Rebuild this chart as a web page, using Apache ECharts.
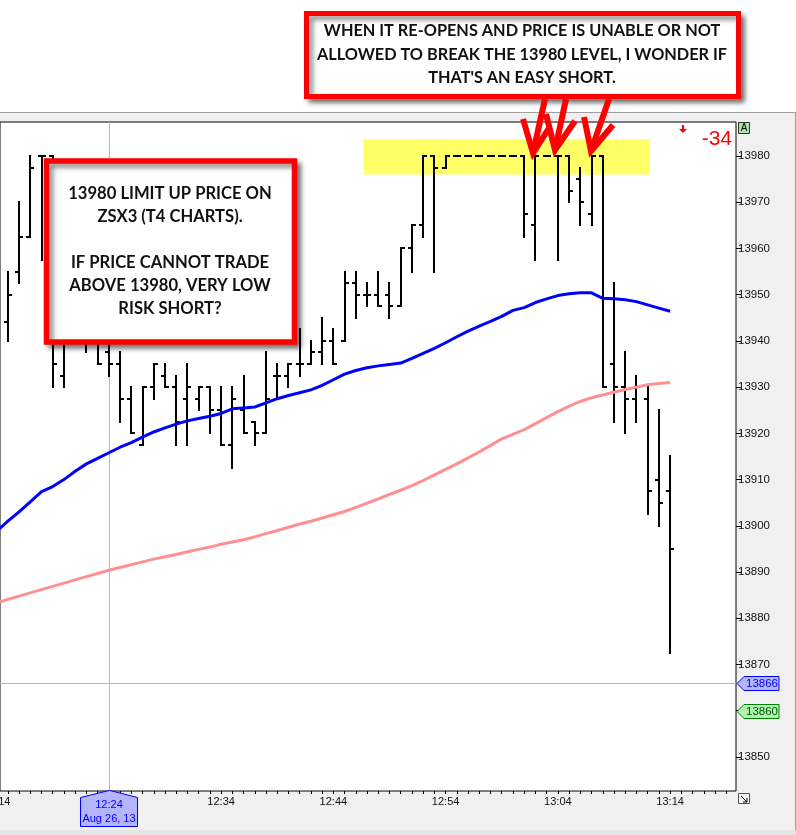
<!DOCTYPE html>
<html><head><meta charset="utf-8">
<script src="https://cdn.jsdelivr.net/npm/echarts@6/dist/echarts.min.js"></script>
<style>html,body{margin:0;padding:0;background:#fff}#c{width:796px;height:835px}</style>
</head><body><div id="c"></div>
<script>
// ---------- data ----------
const times = ['12:15','12:16','12:17','12:18','12:19','12:20','12:21','12:22','12:23','12:24',
 '12:25','12:26','12:27','12:28','12:29','12:30','12:31','12:32','12:33','12:34',
 '12:35','12:36','12:37','12:38','12:39','12:40','12:41','12:42','12:43','12:44',
 '12:45','12:46','12:47','12:48','12:49','12:50','12:51','12:52','12:53','12:54',
 '12:55','12:56','12:57','12:58','12:59','13:00','13:01','13:02','13:03','13:04',
 '13:05','13:06','13:07','13:08','13:09','13:10','13:11','13:12','13:13','13:14'];
const opens = [13944,13955,13962.5,13980,13980,13932.5,13940,13945,13942,13937.5,
 13935,13927.5,13917.5,13930,13932.5,13930,13927.5,13927.5,13930,13925,
 13917.5,13925,13922.5,13920,13932.5,13932.5,13935,13935,13937.5,13940,
 13940,13952.5,13950,13950,13950,13947.5,13960,13965,13980,13977.5,
 13980,13980,13980,13980,13980,13980,13980,13965,13980,13980,
 13980,13975,13967.5,13980,13935,13930,13927.5,13927.5,13910,13907.5];
const highs = [13955,13970,13980,13980,13980,13945,13948,13950,13945,13942,
 13937.5,13930,13930,13935,13935,13932.5,13935,13930,13930,13930,
 13930,13932.5,13922.5,13937.5,13935,13935,13942.5,13940,13945,13942.5,
 13955,13955,13952.5,13955,13952.5,13960,13965,13980,13980,13980,
 13980,13980,13980,13980,13980,13980,13980,13980,13980,13980,
 13980,13977.5,13980,13980,13952.5,13937.5,13932.5,13930,13925,13915];
const lows = [13940,13952.5,13962.5,13957.5,13930,13930,13940,13937.5,13935,13932.5,
 13922.5,13920,13917.5,13927.5,13930,13917.5,13917.5,13925,13920,13917.5,
 13912.5,13920,13917.5,13920,13927.5,13930,13932.5,13935,13935,13935,
 13940,13945,13947.5,13947.5,13945,13947.5,13955,13962.5,13955,13977.5,
 13980,13980,13980,13980,13980,13980,13962.5,13957.5,13980,13957.5,
 13970,13965,13965,13930,13922.5,13920,13922.5,13902.5,13900,13872.5];
const closes = [13950,13962.5,13977.5,13980,13935,13940,13945,13942,13935,13935,
 13927.5,13920,13930,13935,13930,13922.5,13930,13930,13925,13917.5,
 13927.5,13920,13920,13927.5,13932.5,13935,13935,13937.5,13940,13935,
 13952.5,13950,13950,13947.5,13947.5,13960,13965,13980,13977.5,13980,
 13980,13980,13980,13980,13980,13980,13967.5,13980,13980,13980,
 13972.5,13970,13980,13930,13930,13927.5,13930,13907.5,13905,13895];

const maTimes = ['12:14'].concat(times);
const maFast = [13898.8,13901,13903,13905.2,13907.4,13908.5,13910,13911.8,13913.4,13914.6,
 13915.8,13917,13918,13919.2,13920.3,13921.2,13922,13922.7,13923.2,13923.7,
 13924.3,13925.3,13925.5,13925.7,13926.6,13927.5,13928.2,13928.8,13929.4,13930.4,
 13931.6,13932.8,13933.6,13934.2,13934.6,13934.9,13935.2,13936.2,13937.3,13938.4,
 13939.6,13940.9,13942.1,13943.2,13944.2,13945.3,13946.6,13947.2,13948.3,13949.1,
 13949.8,13950.2,13950.4,13950.4,13949.2,13949.1,13948.9,13948.5,13947.8,13947.1,
 13946.4];
const maSlow = [13883.3,13884.1,13884.8,13885.5,13886.2,13886.9,13887.6,13888.3,13889,13889.7,
 13890.4,13891,13891.6,13892.2,13892.8,13893.3,13893.8,13894.4,13894.9,13895.4,
 13896,13896.5,13897,13897.6,13898.3,13899,13899.7,13900.4,13901,13901.7,
 13902.4,13903.1,13904,13904.9,13905.8,13906.8,13907.7,13908.7,13909.8,13911,
 13912.2,13913.4,13914.7,13916,13917.4,13918.8,13919.8,13920.8,13922.1,13923.4,
 13924.7,13925.9,13926.9,13927.7,13928.3,13928.9,13929.5,13930,13930.5,13930.8,
 13931];

const priceTicks = [13850,13860,13870,13880,13890,13900,13910,13920,13930,13940,13950,13960,13970,13980];
const priceLabels = [13850,13870,13880,13890,13900,13910,13920,13930,13940,13950,13960,13970,13980];
const timeLabels = ['12:34','12:44','12:54','13:04','13:14'];
const firstPartialLabel = '12:14';
const limitZone = {from:'12:46.7', to:'13:12.2', low:13976, high:13983.6};
const crossTime = '12:24', crossDate = 'Aug 26, 13';
const crossPrice = 13866, alertPrice = 13860;
const netChange = '-34';
const topNote = ['WHEN IT RE-OPENS AND PRICE IS UNABLE OR NOT','ALLOWED TO BREAK THE 13980 LEVEL, I WONDER IF',"THAT'S AN EASY SHORT."];
const leftNote = ['13980 LIMIT UP PRICE ON','ZSX3 (T4 CHARTS).','','IF PRICE CANNOT TRADE','ABOVE 13980, VERY LOW','RISK SHORT?'];

// ---------- helpers ----------
const toMin = s => { const [h,m] = s.split(':'); return +h*60 + parseFloat(m); };
const fmt = m => Math.floor(m/60) + ':' + String(Math.round(m%60)).padStart(2,'0');

const ohlc = times.map((t,i)=>[toMin(t), opens[i], highs[i], lows[i], closes[i]]);
const fastData = maTimes.map((t,i)=>[toMin(t), maFast[i]]);
const slowData = maTimes.map((t,i)=>[toMin(t), maSlow[i]]);
const minuteTicks = []; for (let m = 735; m <= 799; m++) minuteTicks.push(m);

const FONT = 'Liberation Sans, Arial, sans-serif';
const X_MIN = 734.302, X_MAX = 799.87, Y_MIN = 13842.64, Y_MAX = 13987.35;
const chart = echarts.init(document.getElementById('c'), null, {renderer:'canvas'});

const option = {
  animation:false,
  backgroundColor:'#f0f0f0',
  grid:{left:-1, right:60, top:122, bottom:44, show:true, backgroundColor:'#fff', borderColor:'#000', borderWidth:1},
  xAxis:{type:'value', min:X_MIN, max:X_MAX, splitLine:{show:false},
    axisLine:{show:false},
    axisTick:{show:true, customValues:minuteTicks, length:3, lineStyle:{color:'#000'}},
    axisLabel:{customValues:timeLabels.map(toMin), formatter:v=>fmt(v), fontFamily:FONT, fontSize:11, color:'#111', margin:5}
  },
  yAxis:{type:'value', position:'right', min:Y_MIN, max:Y_MAX, scale:true, splitLine:{show:false},
    axisLine:{show:false},
    axisTick:{show:true, customValues:priceTicks, length:5, lineStyle:{color:'#000'}},
    axisLabel:{customValues:priceLabels, formatter:v=>String(v), fontFamily:FONT, fontSize:11.5, color:'#111', margin:2}
  },
  series:[
    { type:'custom', z:1, silent:true, clip:true,
      data:[[toMin(limitZone.from), limitZone.low, toMin(limitZone.to), limitZone.high]],
      encode:{x:[0,2], y:[1,3]},
      renderItem:(p, api)=>{
        const a = api.coord([api.value(0), api.value(3)]);
        const b = api.coord([api.value(2), api.value(1)]);
        return {type:'rect', shape:{x:a[0], y:a[1], width:b[0]-a[0], height:b[1]-a[1]}, style:{fill:'#ffff66'}};
      }
    },
    { type:'custom', z:3, silent:true, clip:true, data:ohlc,
      encode:{x:0, y:[1,2,3,4]},
      renderItem:(p, api)=>{
        const t = api.value(0);
        const pO = api.coord([t, api.value(1)]), pH = api.coord([t, api.value(2)]);
        const pL = api.coord([t, api.value(3)]), pC = api.coord([t, api.value(4)]);
        const x = Math.round(pO[0]), r = Math.round;
        const st = {stroke:'#000', lineWidth:2};
        return {type:'group', children:[
          {type:'line', shape:{x1:x, y1:r(pH[1])-1, x2:x, y2:r(pL[1])+1}, style:st},
          {type:'line', shape:{x1:x-4, y1:r(pO[1]), x2:x, y2:r(pO[1])}, style:st},
          {type:'line', shape:{x1:x, y1:r(pC[1]), x2:x+4, y2:r(pC[1])}, style:st}
        ]};
      }
    },
    { type:'line', z:4, data:slowData, showSymbol:false, silent:true, lineStyle:{color:'#ff9090', width:3}, itemStyle:{color:'#ff9090'} },
    { type:'line', z:5, data:fastData, showSymbol:false, silent:true, lineStyle:{color:'#0000ff', width:3}, itemStyle:{color:'#0000ff'} }
  ]
};
chart.setOption(option);

// ---------- annotations positioned through the axes ----------
const px = (t, v) => chart.convertToPixel({gridIndex:0}, [t, v]);
const yCross = Math.round(px(toMin(crossTime), crossPrice)[1]);
const yAlert = Math.round(px(toMin(crossTime), alertPrice)[1]);
const xCross = Math.round(px(toMin(crossTime), crossPrice)[0]);
const xFirst = px(toMin(firstPartialLabel), crossPrice)[0];
const plotRight = Math.round(px(X_MAX, crossPrice)[0]);
const plotTop = Math.round(px(X_MIN, Y_MAX)[1]);
const plotBottom = Math.round(px(X_MIN, Y_MIN)[1]);

function priceTag(y, text, fill, stroke, color){
  const x0 = plotRight + 1;
  return [
    {type:'polygon', z:60, shape:{points:[[x0,y+0.5],[x0+7,y-6.5],[x0+42,y-6.5],[x0+42,y+7.5],[x0+7,y+7.5]]}, style:{fill, stroke, lineWidth:1}},
    {type:'text', z:61, x:x0+25, y:y+0.5, style:{text, fill:color, font:'11.5px '+FONT, align:'center', verticalAlign:'middle'}}
  ];
}
function note(lines, cx, cy0, lh, size){
  return lines.map((s,i)=>({type:'text', z:101, x:cx, y:cy0+i*lh,
    style:{text:s, fill:'#111', font:'bold '+size+'px Lato, "Open Sans", sans-serif', align:'center', verticalAlign:'middle'}}));
}
function arrow(tip, tail, armL, armR){
  const st = {stroke:'#ff0000', lineWidth:6, lineCap:'butt', lineJoin:'miter'};
  return [
    {type:'line', z:102, shape:{x1:tail[0], y1:tail[1], x2:tip[0], y2:tip[1]}, style:st},
    {type:'polyline', z:102, shape:{points:[armL, tip, armR]}, style:st}
  ];
}
const crossStyle = {stroke:'#ff8a8a', lineWidth:1, opacity:1};

const graphics = [
  {type:'rect', z:-10, shape:{x:0, y:0, width:796, height:112}, style:{fill:'#fff'}},
  {type:'line', z:-9, shape:{x1:0, y1:112.5, x2:796, y2:112.5}, style:{stroke:'#a0a0a0', lineWidth:1}},
  {type:'line', z:-9, shape:{x1:795.5, y1:112, x2:795.5, y2:835}, style:{stroke:'#a0a0a0', lineWidth:1}},
  {type:'rect', z:-9, shape:{x:0, y:830, width:796, height:5}, style:{fill:'#e4e4e4'}},
  // crosshair (filled 1px rects so the colour stays crisp)
  {type:'rect', z:2, silent:true, shape:{x:xCross, y:plotTop, width:1, height:plotBottom-plotTop}, style:{fill:'#ff9a9a'}},
  {type:'rect', z:2, silent:true, shape:{x:0, y:yCross, width:plotRight, height:1}, style:{fill:'#ff9a9a'}},
  {type:'text', z:20, x:xFirst, y:plotBottom+11, style:{text:firstPartialLabel, fill:'#111', font:'11px '+FONT, align:'center', verticalAlign:'middle'}},
  {type:'rect', z:20, shape:{x:738.5, y:122.5, width:11, height:11}, style:{fill:'#a8e4a8', stroke:'#333', lineWidth:1}},
  {type:'text', z:21, x:744, y:128.5, style:{text:'A', fill:'#000', font:'10px '+FONT, align:'center', verticalAlign:'middle'}},
  {type:'rect', z:20, shape:{x:738.5, y:793.5, width:11, height:10}, style:{fill:'#f4f4f4', stroke:'#555', lineWidth:1}},
  {type:'polyline', z:21, shape:{points:[[741,796],[747,802]]}, style:{stroke:'#000', lineWidth:1}},
  {type:'polyline', z:21, shape:{points:[[743,802],[747,802],[747,798]]}, style:{stroke:'#000', lineWidth:1}},
  {type:'polygon', z:60, shape:{points:[[xCross-28.5,797.5],[xCross-6,792],[xCross+0.5,790.5],[xCross+7,792],[xCross+28.5,797.5],[xCross+28.5,826.5],[xCross-28.5,826.5]]}, style:{fill:'#b4b4ff', stroke:'#0000ff', lineWidth:1}},
  {type:'text', z:61, x:xCross, y:805, style:{text:crossTime, fill:'#0000ff', font:'11px '+FONT, align:'center', verticalAlign:'middle'}},
  {type:'text', z:61, x:xCross, y:819, style:{text:crossDate, fill:'#0000ff', font:'11px '+FONT, align:'center', verticalAlign:'middle'}},
  {type:'text', z:30, x:732, y:139, style:{text:netChange, fill:'#ff0000', font:'21px '+FONT, align:'right', verticalAlign:'middle'}},
  {type:'polygon', z:30, shape:{points:[[682,125],[684,125],[684,129],[687,129],[683,133],[679,129],[682,129]]}, style:{fill:'#ff0000'}},
  {type:'rect', z:100, shape:{x:306.5, y:13.5, width:432, height:83}, style:{fill:'#fff', stroke:'#ff0000', lineWidth:5, shadowBlur:5, shadowOffsetX:4, shadowOffsetY:4, shadowColor:'rgba(0,0,0,0.45)'}},
  {type:'rect', z:100, shape:{x:46.5, y:161, width:248, height:181}, style:{fill:'#fff', stroke:'#ff0000', lineWidth:5.5, shadowBlur:5, shadowOffsetX:4, shadowOffsetY:4, shadowColor:'rgba(0,0,0,0.45)'}}
].concat(priceTag(yCross, String(crossPrice), '#b4b4ff', '#0000ff', '#0000ff'))
 .concat(priceTag(yAlert, String(alertPrice), '#b0f4b0', '#008000', '#005000'))
 .concat(note(topNote, 522, 31, 23.5, 16.3))
 .concat(note(leftNote, 170, 194, 23, 16.6))
 .concat(arrow([533,153],[545,99],[523,119],[549,128]))
 .concat(arrow([555,150],[566,99],[546,114],[575,121]))
 .concat(arrow([591,151],[609,99],[584,117],[613,125]));

chart.setOption({graphic:graphics});
</script></body></html>
